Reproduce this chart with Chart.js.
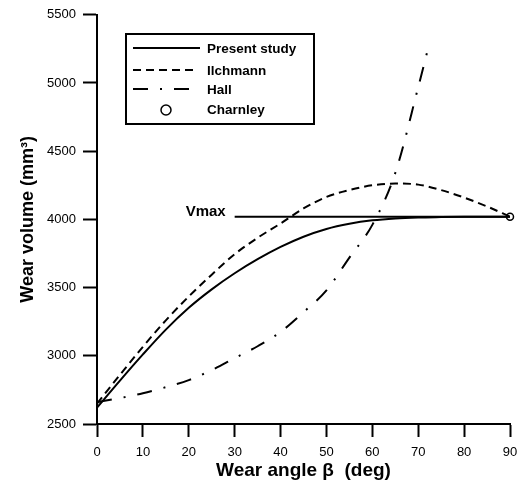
<!DOCTYPE html>
<html>
<head>
<meta charset="utf-8">
<script src="https://cdn.jsdelivr.net/npm/chart.js@4/dist/chart.umd.min.js"></script>
<style>
  html, body { margin: 0; padding: 0; background: #fff; }
</style>
</head>
<body>
<canvas id="wearChart" width="519" height="487"></canvas>
<script>
// === Data ===
const angles = [0, 5, 10, 15, 20, 25, 30, 35, 40, 45, 50, 55, 60, 65, 70, 75, 80, 85, 90];
const presentStudy = [2620, 2818, 3010, 3192, 3352, 3487, 3605, 3708, 3798, 3873, 3930, 3968, 3993, 4007, 4014, 4017, 4019, 4020, 4020];
const ilchmann = [2650, 2860, 3066, 3260, 3435, 3595, 3745, 3865, 3970, 4080, 4165, 4215, 4250, 4263, 4255, 4215, 4160, 4095, 4020];
const hallAngles = [0, 5, 10, 15, 20, 25, 30, 35, 40, 45, 50, 55, 60, 65, 70, 72.5];
const hall = [2660, 2690, 2725, 2770, 2822, 2895, 2983, 3070, 3175, 3320, 3480, 3720, 3960, 4340, 4970, 5300];
const charnleyAngle = [90];
const charnley = [4020];
const vmaxAngles = [30, 90];
const vmax = 4020;
const xTicks = [0, 10, 20, 30, 40, 50, 60, 70, 80, 90];
const yTicks = [2500, 3000, 3500, 4000, 4500, 5000, 5500];

const FONT = '"Liberation Sans", Arial, sans-serif';
const toPoints = (xs, ys) => xs.map((x, i) => ({ x, y: ys[i] }));

// === Legend box + Vmax label ===
const legendItems = [
  { label: "Present study", dash: [] },
  { label: "Ilchmann", dash: [8, 5] },
  { label: "Hall", dash: [15, 12, 2, 12] },
  { label: "Charnley", circle: true },
];

const annotations = {
  id: "annotations",
  afterDraw(chart) {
    const ctx = chart.ctx;
    const xs = chart.scales.x;
    const ys = chart.scales.y;
    ctx.save();

    // Vmax label
    ctx.fillStyle = "#000";
    ctx.font = `bold 15px ${FONT}`;
    ctx.textAlign = "right";
    ctx.textBaseline = "alphabetic";
    ctx.fillText("Vmax", xs.getPixelForValue(vmaxAngles[0]) - 9, ys.getPixelForValue(vmax) - 1);

    // legend frame
    const box = { left: 126, top: 34, width: 188, height: 90 };
    ctx.lineWidth = 2;
    ctx.strokeStyle = "#000";
    ctx.setLineDash([]);
    ctx.strokeRect(box.left, box.top, box.width, box.height);

    const rows = [48, 70, 89, 109];
    ctx.font = `bold 13.5px ${FONT}`;
    ctx.textAlign = "left";
    ctx.textBaseline = "middle";
    legendItems.forEach((item, i) => {
      const y = rows[i];
      if (item.circle) {
        ctx.setLineDash([]);
        ctx.lineWidth = 1.5;
        ctx.beginPath();
        ctx.arc(166, y + 1, 5, 0, Math.PI * 2);
        ctx.fillStyle = "#fff";
        ctx.fill();
        ctx.stroke();
      } else {
        ctx.lineWidth = 2;
        ctx.setLineDash(item.dash);
        ctx.beginPath();
        ctx.moveTo(133, y);
        ctx.lineTo(item.dash.length ? 193 : 200, y);
        ctx.stroke();
      }
      ctx.fillStyle = "#000";
      ctx.fillText(item.label, 207, y + 1);
    });
    ctx.restore();
  },
};

const lineStyle = {
  borderColor: "#000",
  borderWidth: 2,
  pointRadius: 0,
  fill: false,
  cubicInterpolationMode: "monotone",
};

new Chart(document.getElementById("wearChart"), {
  type: "line",
  data: {
    datasets: [
      { ...lineStyle, label: "Present study", data: toPoints(angles, presentStudy) },
      { ...lineStyle, label: "Ilchmann", data: toPoints(angles, ilchmann), borderDash: [8, 5] },
      { ...lineStyle, label: "Hall", data: toPoints(hallAngles, hall), borderDash: [15, 12, 2, 12] },
      { ...lineStyle, label: "Vmax", data: toPoints(vmaxAngles, [vmax, vmax]) },
      {
        label: "Charnley",
        data: toPoints(charnleyAngle, charnley),
        showLine: false,
        clip: false,
        pointRadius: 3.5,
        pointBorderWidth: 1.5,
        pointBackgroundColor: "#fff",
        pointBorderColor: "#000",
      },
    ],
  },
  options: {
    responsive: false,
    animation: false,
    devicePixelRatio: 1,
    layout: { padding: { top: 14, right: 9, bottom: 0, left: 0 } },
    plugins: {
      legend: { display: false },
      tooltip: { enabled: false },
    },
    scales: {
      x: {
        type: "linear",
        min: 0,
        max: 90,
        afterFit: (scale) => {
          scale.height = 63;
          scale.paddingLeft = 0;
          scale.paddingRight = 0;
        },
        afterBuildTicks: (scale) => { scale.ticks = xTicks.map((v) => ({ value: v })); },
        border: { display: true, color: "#000", width: 2 },
        grid: { drawOnChartArea: false, drawTicks: true, tickLength: 13, tickWidth: 2, color: "#000" },
        ticks: {
          color: "#000",
          padding: 8,
          maxRotation: 0,
          font: { family: FONT, size: 13 },
          callback: (v) => String(v),
        },
        title: {
          display: true,
          text: "Wear angle \u03b2  (deg)",
          color: "#000",
          padding: { top: 0, bottom: 5 },
          font: { family: FONT, size: 19, weight: "bold" },
        },
      },
      y: {
        min: 2500,
        max: 5500,
        afterFit: (scale) => { scale.width = 97; },
        afterBuildTicks: (scale) => { scale.ticks = yTicks.map((v) => ({ value: v })); },
        border: { display: true, color: "#000", width: 2 },
        grid: { drawOnChartArea: false, drawTicks: true, tickLength: 14, tickWidth: 2, color: "#000" },
        ticks: {
          color: "#000",
          padding: 7,
          font: { family: FONT, size: 13 },
          callback: (v) => String(v),
        },
        title: {
          display: true,
          text: "Wear volume (mm\u00b3)",
          color: "#000",
          padding: { top: 17, bottom: 0 },
          font: { family: FONT, size: 18, weight: "bold" },
        },
      },
    },
  },
  plugins: [annotations],
});
</script>
</body>
</html>
